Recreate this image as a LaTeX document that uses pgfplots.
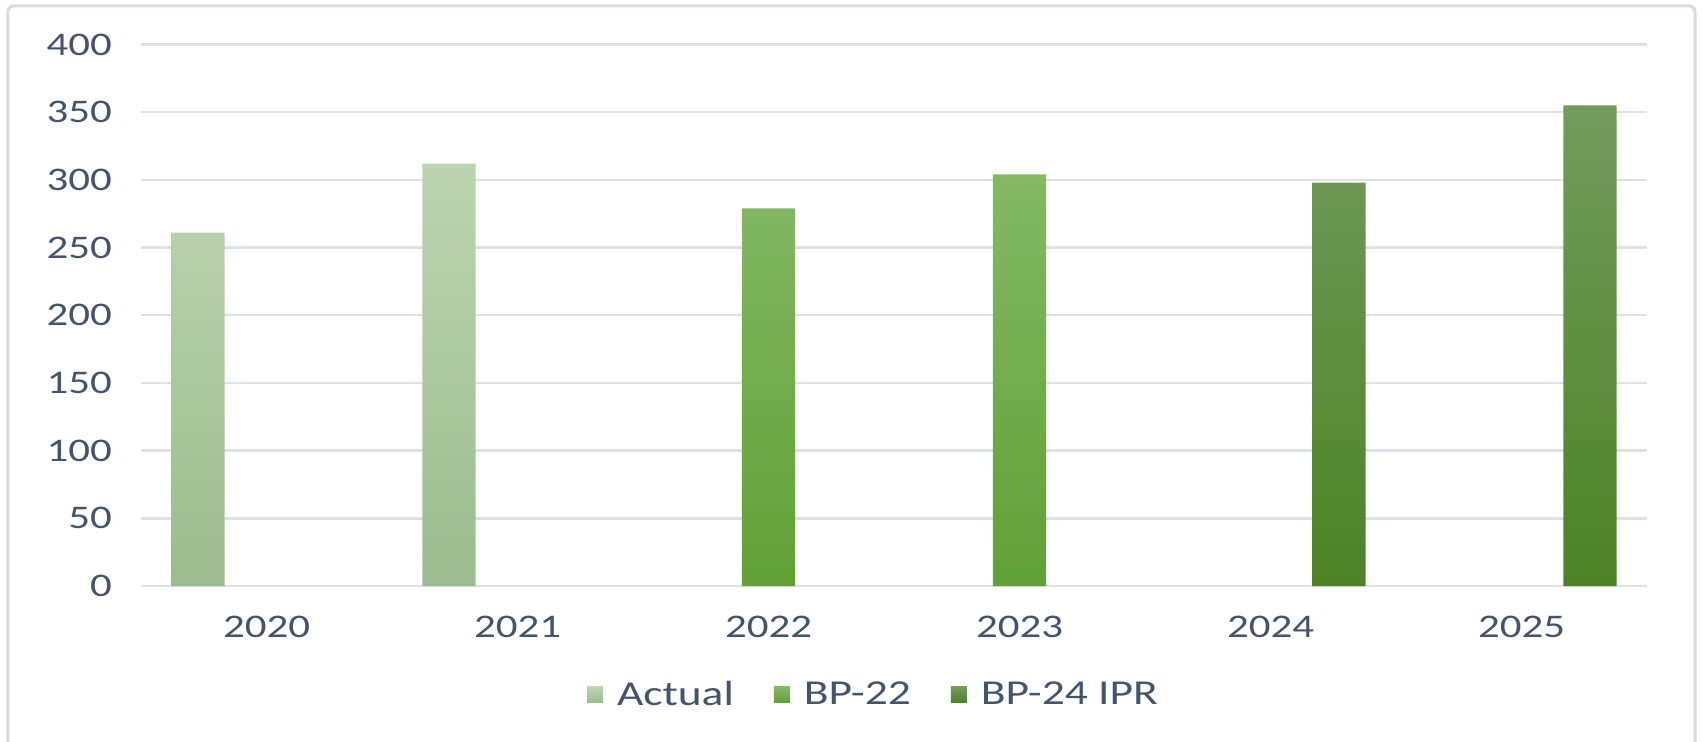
\documentclass[border=0pt]{standalone}
\usepackage{pgfplots}
\pgfplotsset{compat=1.18}
\usepackage{fontspec}
\setmainfont{Carlito}[FakeStretch=1.3]
\definecolor{txt}{HTML}{44546A}
\definecolor{gridc}{HTML}{DCE1E8}
\definecolor{bordc}{HTML}{D6DCE5}
\definecolor{aTop}{HTML}{BBD5B0}
\definecolor{aBot}{HTML}{9CBB8F}
\definecolor{bTop}{HTML}{84B865}
\definecolor{bBot}{HTML}{60A136}
\definecolor{cTop}{HTML}{739B5B}
\definecolor{cBot}{HTML}{4D8226}
\begin{document}
\begin{tikzpicture}
\useasboundingbox (-70.5pt,-77.5pt) rectangle (780.5pt,293pt);
\begin{axis}[
  scale only axis, width=753pt, height=270.75pt,
  xmin=-0.5, xmax=5.5, ymin=0, ymax=400,
  ytick={0,50,...,400}, xtick={0,...,5},
  xticklabels={2020,2021,2022,2023,2024,2025},
  axis line style={draw=none}, major tick length=0pt,
  ymajorgrids, grid style={color=gridc, line width=1.2pt},
  ticklabel style={font=\fontsize{16.5}{19}\selectfont, text=txt},
  /pgf/number format/assume math mode=true,
  yticklabel style={xshift=-11pt},
  xticklabel style={yshift=-11.5pt},
  legend columns=3,
  legend style={draw=none, fill=none, at={(0.487,-0.201)}, anchor=center,
    font=\fontsize{17.5}{20}\selectfont, text=txt,
    /tikz/every even column/.append style={column sep=18pt}},
  legend image code/.code={\path[#1,draw=none] (0pt,-4pt) rectangle (8pt,4pt); \path (13pt,0pt);},
]
\addplot[ybar, bar width=0.212, bar shift=-0.273, draw=none, top color=aTop, bottom color=aBot]
  coordinates {(0,261) (1,312)};
\addlegendentry{Actual}
\addplot[ybar, bar width=0.212, bar shift=0, draw=none, top color=bTop, bottom color=bBot]
  coordinates {(2,279) (3,304)};
\addlegendentry{BP-22}
\addplot[ybar, bar width=0.212, bar shift=0.273, draw=none, top color=cTop, bottom color=cBot]
  coordinates {(4,298) (5,355)};
\addlegendentry{BP-24 IPR}
\end{axis}
\draw[bordc, line width=1.5pt, rounded corners=3pt] (-66.5pt,-82pt) rectangle (777pt,290.1pt);
\end{tikzpicture}
\end{document}
